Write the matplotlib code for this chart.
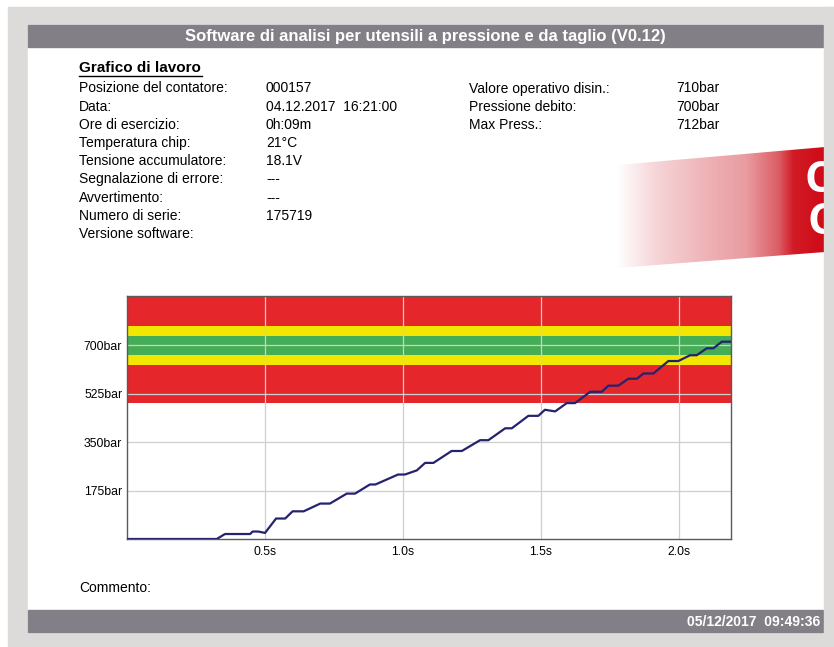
import matplotlib.pyplot as plt
import matplotlib.patches as mpatches
from matplotlib.colors import LinearSegmentedColormap
import numpy as np

plt.rcParams['font.family'] = ['Liberation Sans', 'DejaVu Sans']

# pressure curve (time s, pressure bar)
time_s = [0, 0.325, 0.355, 0.446, 0.455, 0.475, 0.50, 0.54, 0.573, 0.60, 0.64,
          0.70, 0.735, 0.796, 0.826, 0.88, 0.90, 0.982, 1.007, 1.05, 1.08, 1.11,
          1.176, 1.213, 1.279, 1.309, 1.370, 1.394, 1.454, 1.49, 1.514, 1.551,
          1.593, 1.623, 1.678, 1.72, 1.744, 1.78, 1.816, 1.847, 1.871, 1.907,
          1.961, 1.997, 2.04, 2.064, 2.10, 2.124, 2.155, 2.188]
pressure = [0, 0, 18, 18, 27, 27, 22, 74, 74, 100, 100,
            128, 128, 164, 164, 197, 197, 233, 233, 248, 275, 275,
            318, 318, 357, 357, 400, 400, 445, 445, 467, 461,
            491, 491, 532, 532, 554, 554, 579, 579, 598, 598,
            643, 643, 664, 664, 689, 689, 713, 713]

# tolerance bands (lower, upper, colour)
band_low = [490, 630, 665, 735, 770]
band_high = [630, 665, 735, 770, 900]
band_col = ['#e5262b', '#f3e600', '#45ad55', '#f3e600', '#e5262b']

y_ticks = [175, 350, 525, 700]
y_labels = ['175bar', '350bar', '525bar', '700bar']
x_ticks = [0.5, 1.0, 1.5, 2.0]
x_labels = ['0.5s', '1.0s', '1.5s', '2.0s']

info_left = [('Posizione del contatore:', '000157'),
             ('Data:', '04.12.2017  16:21:00'),
             ('Ore di esercizio:', '0h:09m'),
             ('Temperatura chip:', '21°C'),
             ('Tensione accumulatore:', '18.1V'),
             ('Segnalazione di errore:', '---'),
             ('Avvertimento:', '---'),
             ('Numero di serie:', '175719'),
             ('Versione software:', '')]
info_right = [('Valore operativo disin.:', '710bar'),
              ('Pressione debito:', '700bar'),
              ('Max Press.:', '712bar')]

W, H = 834, 647
fig = plt.figure(figsize=(W / 100, H / 100), dpi=100, facecolor='white')

# page decoration in pixel coordinates
bg = fig.add_axes([0, 0, 1, 1])
bg.set_xlim(0, W)
bg.set_ylim(H, 0)
bg.axis('off')

frame_gray = '#dcdbd9'
bar_gray = '#828086'
bg.add_patch(mpatches.Rectangle((8, 7), W - 8, H - 7, color=frame_gray, zorder=0))
bg.add_patch(mpatches.Rectangle((28, 25), 796, 607, color='white', zorder=1))
bg.add_patch(mpatches.Rectangle((28, 25), 795, 22, color=bar_gray, zorder=2))
bg.add_patch(mpatches.Rectangle((28, 610), 795, 22, color=bar_gray, zorder=2))

bg.text(425.5, 36.5, 'Software di analisi per utensili a pressione e da taglio (V0.12)',
        color='white', fontsize=12, fontweight='bold', ha='center', va='center', zorder=3)
bg.text(820, 621.5, '05/12/2017  09:49:36', color='white', fontsize=10,
        fontweight='bold', ha='right', va='center', zorder=3)

# header block
bg.text(79, 68, 'Grafico di lavoro', fontsize=11, fontweight='bold', va='center', zorder=3)
bg.plot([79, 202], [75.5, 75.5], color='black', lw=1.0, zorder=3)
row_y = 88.5
for label, value in info_left:
    bg.text(79, row_y, label, fontsize=10, va='center', zorder=3)
    bg.text(266, row_y, value, fontsize=10, va='center', zorder=3)
    row_y += 18.2
row_y = 88.5
for label, value in info_right:
    bg.text(469, row_y, label, fontsize=10, va='center', zorder=3)
    bg.text(676, row_y, value, fontsize=10, va='center', zorder=3)
    row_y += 18.2
bg.text(79, 588, 'Commento:', fontsize=10, va='center', zorder=3)

# red logo badge fading in from the left
cmap = LinearSegmentedColormap.from_list('badge', [
    (0.0, '#ffffff'), (0.18, '#f6d6d9'), (0.45, '#eeb0b4'), (0.62, '#e99ca1'),
    (0.78, '#dc5c64'), (0.85, '#d11b26'), (1.0, '#cf0a17')])
grad = np.linspace(0, 1, 256).reshape(1, -1)
img = bg.imshow(grad, cmap=cmap, extent=[617, 825, 270, 145], aspect='auto', zorder=2)
badge = mpatches.Polygon([(617, 165), (825, 147), (825, 252), (617, 268)],
                         closed=True, transform=bg.transData)
img.set_clip_path(badge)
bg.text(805, 180, 'CO', color='white', fontsize=31, fontweight='bold',
        family='Open Sans', va='center', ha='left', zorder=3)
bg.text(808, 222, 'C', color='white', fontsize=31, fontweight='bold',
        family='Open Sans', va='center', ha='left', zorder=3)
bg.add_patch(mpatches.Rectangle((824, 7), 10, H - 7, color=frame_gray, zorder=4))
bg.set_xlim(0, W)
bg.set_ylim(H, 0)

# pressure chart
ax = fig.add_axes([127 / W, 1 - 539 / H, (731 - 127) / W, (539 - 296) / H])
for lo, hi, c in zip(band_low, band_high, band_col):
    ax.axhspan(lo, hi, color=c, lw=0, zorder=1)
ax.plot(time_s, pressure, color='#25226e', lw=1.6, zorder=3)
ax.set_xlim(0, 2.188)
ax.set_ylim(0, 878)
ax.set_xticks(x_ticks)
ax.set_xticklabels(x_labels)
ax.set_yticks(y_ticks)
ax.set_yticklabels(y_labels)
ax.tick_params(length=0, labelsize=8.8, pad=3.5)
ax.tick_params(axis='x', pad=5)
ax.grid(True, color='#cfcfcf', lw=0.9, zorder=2)
for s in ax.spines.values():
    s.set_color('#5a5a5a')
    s.set_linewidth(1.0)

fig.savefig('out.png', dpi=100, facecolor='white')
